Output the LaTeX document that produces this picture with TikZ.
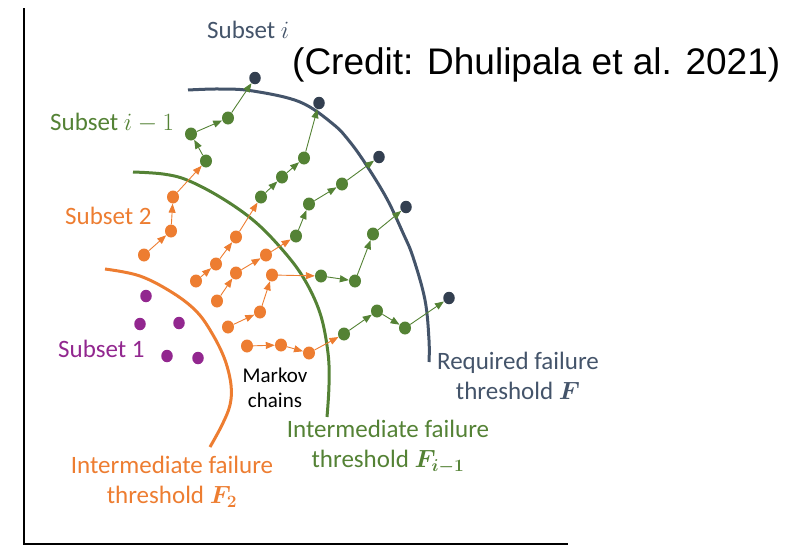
\documentclass[tikz,border=0pt]{standalone}
\usepackage{fontspec}
\usepackage{amsmath}
\usepackage{bm}
\setmainfont{Carlito}
\newfontfamily\creditfont{Liberation Sans}
\usetikzlibrary{arrows.meta,shapes.geometric}

\definecolor{cOrange}{HTML}{ED7D31}
\definecolor{cGreen}{HTML}{548235}
\definecolor{cSlate}{HTML}{44546A}
\definecolor{cNavy}{HTML}{333F50}
\definecolor{cPurple}{HTML}{92278F}

\tikzset{
  dotbase/.style={ellipse, minimum width=12pt, minimum height=13pt, inner sep=0pt, draw=none},
  odot/.style={dotbase, fill=cOrange},
  gdot/.style={dotbase, fill=cGreen},
  ndot/.style={dotbase, fill=cNavy, minimum width=11.5pt, minimum height=12.5pt},
  pdot/.style={dotbase, fill=cPurple, minimum width=11.5pt, minimum height=12.5pt},
  chainarrow/.style={line width=0.9pt, -{Triangle[length=9pt,width=7pt]}, shorten >=0pt},
  oarr/.style={chainarrow, cOrange},
  garr/.style={chainarrow, cGreen},
  threshold/.style={line width=3pt, line cap=butt},
  lbl/.style={inner sep=0pt, font=\fontsize{25}{30}\selectfont},
}

\begin{document}
\begin{tikzpicture}[x=1pt, y=-1pt]
\useasboundingbox (0,0) rectangle (791,546);

% axes
\coordinate (top) at (24,8);
\coordinate (origin) at (24,544);
\coordinate (right) at (568,544);
\draw[line width=2pt, black] (top) -- (origin) -- (right);

% threshold curves
\draw[threshold, cOrange] plot[smooth, tension=0.6] coordinates {
  (105,269) (140,276) (173,293) (197,312) (213,335) (225,360)
  (231,385) (230,405) (222,425) (210,447)};
\draw[threshold, cGreen] plot[smooth, tension=0.6] coordinates {
  (133,172) (163,174) (187,180) (220,197) (253,220) (280,247)
  (303,277) (320,313) (328,353) (329,385) (327,417)};
\draw[threshold, cSlate] plot[smooth, tension=0.6] coordinates {
  (188,90) (220,89) (253,91) (300,102) (333,124) (350,142) (367,166)
  (387,199) (403,233) (413,257) (425,300) (429,340) (429,362)};

% subset 1 samples
\node[pdot] (p1) at (146,296) {};
\node[pdot] (p2) at (140,324) {};
\node[pdot] (p3) at (179,323) {};
\node[pdot] (p4) at (167,356) {};
\node[pdot] (p5) at (198,358) {};

% chain 1
\node[odot] (a1) at (144,255) {};
\node[odot] (a2) at (171,231) {};
\node[odot] (a3) at (173,197) {};
\node[gdot] (a4) at (206,161) {};
\node[gdot] (a5) at (191,134) {};
\node[gdot] (a6) at (228,118) {};
\node[ndot] (a7) at (255,78) {};
\draw[oarr] (a1) -- (a2);
\draw[oarr] (a2) -- (a3);
\draw[oarr] (a3) -- (a4);
\draw[garr] (a4) -- (a5);
\draw[garr] (a5) -- (a6);
\draw[garr] (a6) -- (a7);

% chain 2
\node[odot] (b1) at (196,281) {};
\node[odot] (b2) at (216,264) {};
\node[odot] (b3) at (236,237) {};
\node[gdot] (b4) at (261,197) {};
\node[gdot] (b5) at (282,177) {};
\node[gdot] (b6) at (304,158) {};
\node[ndot] (b7) at (319,103) {};
\draw[oarr] (b1) -- (b2);
\draw[oarr] (b2) -- (b3);
\draw[oarr] (b3) -- (b4);
\draw[garr] (b4) -- (b5);
\draw[garr] (b5) -- (b6);
\draw[garr] (b6) -- (b7);

% chain 3
\node[odot] (c1) at (217,301) {};
\node[odot] (c2) at (236,273) {};
\node[odot] (c3) at (266,255) {};
\node[gdot] (c4) at (296,236) {};
\node[gdot] (c5) at (309,204) {};
\node[gdot] (c6) at (342,184) {};
\node[ndot] (c7) at (379,157) {};
\draw[oarr] (c1) -- (c2);
\draw[oarr] (c2) -- (c3);
\draw[oarr] (c3) -- (c4);
\draw[garr] (c4) -- (c5);
\draw[garr] (c5) -- (c6);
\draw[garr] (c6) -- (c7);

% chain 4
\node[odot] (d1) at (228,327) {};
\node[odot] (d2) at (260,312) {};
\node[odot] (d3) at (272,275) {};
\node[gdot] (d4) at (321,276) {};
\node[gdot] (d5) at (355,281) {};
\node[gdot] (d6) at (373,234) {};
\node[ndot] (d7) at (406,207) {};
\draw[oarr] (d1) -- (d2);
\draw[oarr] (d2) -- (d3);
\draw[oarr] (d3) -- (d4);
\draw[garr] (d4) -- (d5);
\draw[garr] (d5) -- (d6);
\draw[garr] (d6) -- (d7);

% chain 5
\node[odot] (e1) at (247,346) {};
\node[odot] (e2) at (281,345) {};
\node[odot] (e3) at (309,353) {};
\node[gdot] (e4) at (344,334) {};
\node[gdot] (e5) at (377,311) {};
\node[gdot] (e6) at (405,328) {};
\node[ndot] (e7) at (449,298) {};
\draw[oarr] (e1) -- (e2);
\draw[oarr] (e2) -- (e3);
\draw[oarr] (e3) -- (e4);
\draw[garr] (e4) -- (e5);
\draw[garr] (e5) -- (e6);
\draw[garr] (e6) -- (e7);

% labels
\node[lbl, anchor=west, text=cSlate] (subi) at (207,30) {Subset $i$};
\node[lbl, anchor=west, text=cGreen] (subim) at (50,123) {Subset $i-1$};
\node[lbl, anchor=west, text=cOrange] (sub2) at (65,216) {Subset 2};
\node[lbl, anchor=west, text=cPurple] (sub1) at (58,349) {Subset 1};
\node[inner sep=0pt, align=center, font=\fontsize{21}{25}\selectfont] (markov) at (275,388) {Markov\\chains};
\node[lbl, align=center, text=cOrange] (thr2) at (172,482) {Intermediate failure\\threshold $\bm{F_2}$};
\node[lbl, align=center, text=cGreen] (thrim) at (388,447) {Intermediate failure\\threshold $\bm{F_{i-1}}$};
\node[lbl, align=center, text=cSlate] (thrF) at (518,376) {Required failure\\threshold $\bm{F}$};
\node[inner sep=0pt, anchor=west, font=\creditfont\fontsize{37}{44}\selectfont] (credit) at (292,65) {(Credit: Dhulipala et al. 2021)};
\end{tikzpicture}
\end{document}
